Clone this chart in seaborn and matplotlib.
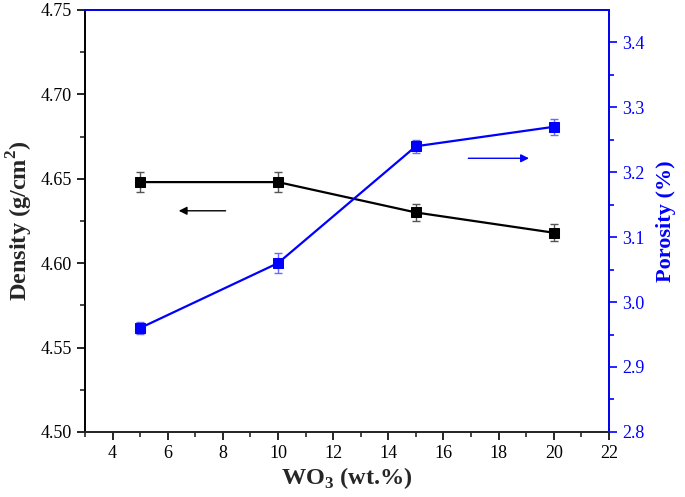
import seaborn as sns
import matplotlib.pyplot as plt
import pandas as pd

# data
wo3 = [5, 10, 15, 20]
density = [4.648, 4.648, 4.630, 4.618]
density_err = [0.006, 0.006, 0.005, 0.005]
porosity = [2.96, 3.06, 3.24, 3.27]
porosity_err = [0.009, 0.015, 0.010, 0.012]

df = pd.DataFrame({'wo3': wo3, 'density': density, 'porosity': porosity})

sns.set_style('ticks')
plt.rcParams['font.family'] = ['Liberation Serif', 'DejaVu Serif']
plt.rcParams['mathtext.fontset'] = 'custom'
plt.rcParams['mathtext.rm'] = 'Liberation Serif'
plt.rcParams['mathtext.bf'] = 'Liberation Serif:bold'

fig = plt.figure(figsize=(6.85, 4.97), dpi=100)
ax = fig.add_axes([0.124, 0.131, 0.765, 0.849])
ax2 = ax.twinx()

# density (left axis)
ax.errorbar(df['wo3'], df['density'], yerr=density_err, fmt='none',
            ecolor='#555555', elinewidth=1, capsize=3, capthick=1, zorder=2)
sns.lineplot(x='wo3', y='density', data=df, ax=ax, color='black', lw=1.6,
             marker='s', markersize=6.5, markeredgecolor='black', zorder=3)

# porosity (right axis)
ax2.errorbar(df['wo3'], df['porosity'], yerr=porosity_err, fmt='none',
             ecolor='#6a6aff', elinewidth=1, capsize=3, capthick=1, zorder=2)
sns.lineplot(x='wo3', y='porosity', data=df, ax=ax2, color='blue', lw=1.6,
             marker='s', markersize=6.5, markeredgecolor='blue', zorder=3)

ax.set_xlim(3, 22)
ax.set_ylim(4.50, 4.75)
ax2.set_ylim(2.8, 3.45)
ax.set_xticks(range(4, 23, 2))
ax.set_xticks(range(3, 23, 1), minor=True)
ax.set_yticks([4.50, 4.55, 4.60, 4.65, 4.70, 4.75])
ax.set_yticklabels(['4.50', '4.55', '4.60', '4.65', '4.70', '4.75'])
ax.set_yticks([4.525, 4.575, 4.625, 4.675, 4.725], minor=True)
ax2.set_yticks([2.8, 2.9, 3.0, 3.1, 3.2, 3.3, 3.4])
ax2.set_yticklabels(['2.8', '2.9', '3.0', '3.1', '3.2', '3.3', '3.4'])
ax2.set_yticks([2.85, 2.95, 3.05, 3.15, 3.25, 3.35], minor=True)

ax.set_xlabel('WO$_\\mathbf{3}$ (wt.%)', fontsize=17.5, fontweight='bold', labelpad=2)
ax.set_ylabel('Density (g/cm$^\\mathbf{2}$)', fontsize=17.5, fontweight='bold', labelpad=4)
ax2.set_ylabel('Porosity (%)', fontsize=16, fontweight='bold', color='blue', labelpad=8)

for a in (ax, ax2):
    for s in a.spines.values():
        s.set_linewidth(1.3)
ax.tick_params(which='major', length=6, width=1.2, labelsize=13, colors='black')
ax.tick_params(which='minor', length=3.5, width=1.2)
ax2.tick_params(which='major', length=6, width=1.2, labelsize=13, colors='blue')
ax2.tick_params(which='minor', length=3.5, width=1.2, colors='blue')
ax2.spines['right'].set_color('blue')
ax2.spines['top'].set_color('blue')
ax2.spines['left'].set_color('black')

# direction arrows
ax.annotate('', xy=(6.3, 4.631), xytext=(8.2, 4.631),
            arrowprops=dict(arrowstyle='-|>', color='black', lw=1, mutation_scale=12))
ax2.annotate('', xy=(19.2, 3.2215), xytext=(16.8, 3.2215),
             arrowprops=dict(arrowstyle='-|>', color='blue', lw=1, mutation_scale=12))

plt.savefig('out.png', dpi=100)
